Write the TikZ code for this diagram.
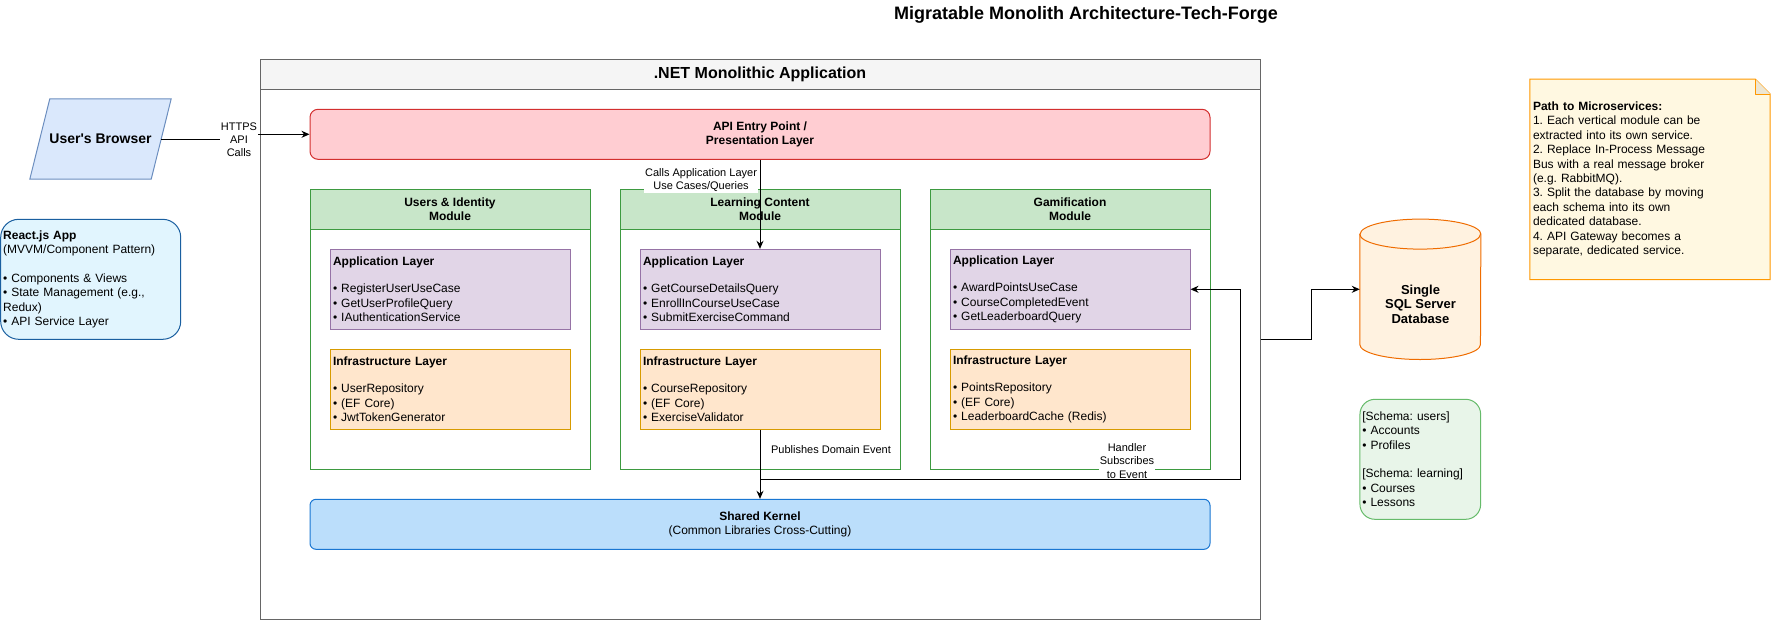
\documentclass[tikz,border=0pt]{standalone}
\usepackage{fontspec}
\setmainfont{Liberation Sans}
\usetikzlibrary{arrows.meta,backgrounds}
\frenchspacing

\definecolor{cFrame}{HTML}{666666}
\definecolor{cFrameHead}{HTML}{F5F5F5}
\definecolor{cBrowserFill}{HTML}{DAE8FC}
\definecolor{cBrowserLine}{HTML}{6C8EBF}
\definecolor{cApiFill}{HTML}{FFCDD2}
\definecolor{cApiLine}{HTML}{D32F2F}
\definecolor{cModFill}{HTML}{C8E6C9}
\definecolor{cModLine}{HTML}{3D9A40}
\definecolor{cAppFill}{HTML}{E1D5E7}
\definecolor{cAppLine}{HTML}{9673A6}
\definecolor{cInfraFill}{HTML}{FFE6CC}
\definecolor{cInfraLine}{HTML}{D79B00}
\definecolor{cKernelFill}{HTML}{BBDEFB}
\definecolor{cKernelLine}{HTML}{1976D2}
\definecolor{cReactFill}{HTML}{E1F5FE}
\definecolor{cReactLine}{HTML}{1A5FA0}
\definecolor{cDbFill}{HTML}{FFF2E0}
\definecolor{cDbLine}{HTML}{EF6C00}
\definecolor{cSchemaFill}{HTML}{E8F5E9}
\definecolor{cSchemaLine}{HTML}{66BB6A}
\definecolor{cNoteFill}{HTML}{FFF8E1}
\definecolor{cNoteLine}{HTML}{FF9800}
\definecolor{cNoteFold}{HTML}{EDE6D3}

\newcommand{\layertxt}[4]{\textbf{#1}\\[13pt]• #2\\• #3\\• #4}

\tikzset{
  box/.style={draw, line width=1pt, inner sep=0pt, font=\fontsize{12}{14.4}\selectfont},
  pagetitle/.style={font=\fontsize{18}{21.6}\selectfont\bfseries, inner sep=0pt},
  frame/.style={box, draw=cFrame, minimum width=1000pt, minimum height=560pt},
  framehead/.style={box, draw=cFrame, fill=cFrameHead, minimum width=1000pt, minimum height=30pt, font=\fontsize{16}{19.2}\selectfont\bfseries},
  browser/.style={inner sep=0pt, minimum width=121pt, minimum height=80pt, font=\fontsize{14}{16.8}\selectfont\bfseries},
  apibox/.style={box, rounded corners=8pt, draw=cApiLine, fill=cApiFill, minimum width=900pt, minimum height=50pt, align=center, font=\fontsize{12}{14.4}\selectfont\bfseries},
  modbody/.style={box, draw=cModLine, minimum width=280pt, minimum height=280pt},
  modhead/.style={box, draw=cModLine, fill=cModFill, minimum width=280pt, minimum height=40pt, align=center, font=\fontsize{12}{14.4}\selectfont\bfseries},
  layer/.style={box, minimum width=240pt, minimum height=80pt, text width=234pt, align=left},
  applayer/.style={layer, draw=cAppLine, fill=cAppFill},
  infralayer/.style={layer, draw=cInfraLine, fill=cInfraFill},
  kernel/.style={box, rounded corners=6pt, draw=cKernelLine, fill=cKernelFill, minimum width=900pt, minimum height=50pt, align=center},
  react/.style={box, rounded corners=18pt, draw=cReactLine, fill=cReactFill, minimum width=180pt, minimum height=120pt, text width=175pt, align=left},
  db/.style={inner sep=0pt, minimum width=120.7pt, minimum height=140pt},
  dbtext/.style={align=center, inner sep=0pt, font=\fontsize{13}{14.6}\selectfont\bfseries},
  schema/.style={box, rounded corners=15pt, draw=cSchemaLine, fill=cSchemaFill, minimum width=120.7pt, minimum height=120pt, text width=116pt, align=left},
  note/.style={inner sep=0pt, minimum width=240pt, minimum height=200pt, text width=234pt, align=left, font=\fontsize{12}{14.4}\selectfont},
  elabel/.style={align=center, inner sep=1pt, font=\fontsize{11}{13.2}\selectfont},
  arr/.style={draw, line width=1pt, -{Stealth[length=8pt,width=7pt]}}
}

\begin{document}
\begin{tikzpicture}[x=1pt,y=-1pt]
\useasboundingbox (0,0) rectangle (1772,621);

\node[pagetitle] (title) at (1086,15) {Migratable Monolith Architecture-Tech-Forge};

\node[frame] (mono) at (760,339.3) {};
\node[framehead] (monohead) at (760,74.3) {.NET Monolithic Application};

\node[browser] (browser) at (100.5,139) {User\textquotesingle s Browser};
\begin{scope}[on background layer]
\filldraw[line width=1pt, draw=cBrowserLine, fill=cBrowserFill] ([xshift=10pt]browser.north west) -- ([xshift=10pt]browser.north east) -- ([xshift=-10pt]browser.south east) -- ([xshift=-10pt]browser.south west) -- cycle;
\end{scope}
\node[apibox] (api) at (760,134.3) {API Entry Point /\\Presentation Layer};
\coordinate (httpsmid) at (239,139);
\draw[arr] (browser.east) -- (httpsmid) |- (api.west);
\node[elabel, fill=white] (https) at (239,140) {HTTPS\\API\\Calls};

\node[modbody] (umod) at (450,329.3) {};
\node[modhead] (uhead) at (450,209.3) {Users \& Identity\\Module};
\node[applayer] (uapp) at (450,289.3) {\layertxt{Application Layer}{RegisterUserUseCase}{GetUserProfileQuery}{IAuthenticationService}};
\node[infralayer] (uinfra) at (450,389.3) {\layertxt{Infrastructure Layer}{UserRepository}{(EF Core)}{JwtTokenGenerator}};

\node[modbody] (lmod) at (760,329.3) {};
\node[modhead] (lhead) at (760,209.3) {Learning Content\\Module};
\node[applayer] (lapp) at (760,289.3) {\layertxt{Application Layer}{GetCourseDetailsQuery}{EnrollInCourseUseCase}{SubmitExerciseCommand}};
\node[infralayer] (linfra) at (760,389.3) {\layertxt{Infrastructure Layer}{CourseRepository}{(EF Core)}{ExerciseValidator}};

\node[modbody] (gmod) at (1070,329.3) {};
\node[modhead] (ghead) at (1070,209.3) {Gamification\\Module};
\node[applayer] (gapp) at (1070,289.3) {\layertxt{Application Layer}{AwardPointsUseCase}{CourseCompletedEvent}{GetLeaderboardQuery}};
\node[infralayer] (ginfra) at (1070,389.3) {\layertxt{Infrastructure Layer}{PointsRepository}{(EF Core)}{LeaderboardCache (Redis)}};

\node[kernel] (kernel) at (760,524.3) {\textbf{Shared Kernel}\\(Common Libraries Cross-Cutting)};

\draw[arr] (api.south) -- (lapp.north);
\node[elabel, fill=white] (callslbl) at (701,180) {Calls Application Layer\\Use Cases/Queries};
\draw[arr] (linfra.south) -- (kernel.north);
\node[elabel] (publbl) at (831,450) {Publishes Domain Event};
\coordinate (handlerbend) at (1240.7,479.3);
\draw[arr] (linfra.south) |- (handlerbend) |- (gapp.east);
\node[elabel, fill=white] (handlerlbl) at (1127,461) {Handler\\Subscribes\\to Event};

\node[react] (react) at (90.7,279.3) {\textbf{React.js App}\\(MVVM/Component Pattern)\\[14.4pt]• Components \& Views\\• State Management (e.g.,\\Redux)\\• API Service Layer};

\node[db] (db) at (1420.3,289.3) {};
\begin{scope}[on background layer]
\filldraw[line width=1pt, draw=cDbLine, fill=cDbFill] ([yshift=-15pt]db.north west) -- ([yshift=15pt]db.south west) arc[start angle=180, end angle=360, x radius=60.35pt, y radius=15pt] -- ([yshift=-15pt]db.north east) arc[start angle=0, end angle=180, x radius=60.35pt, y radius=15pt] -- cycle;
\draw[line width=1pt, draw=cDbLine] ([yshift=-15pt]db.north west) arc[start angle=180, end angle=360, x radius=60.35pt, y radius=15pt];
\end{scope}
\node[dbtext] (dbtxt) at (1420.5,304) {Single\\SQL Server\\Database};
\draw[arr] (mono.east) -- ++(50.7,0) |- (db.west);

\node[schema] (schema) at (1420.3,459.3) {{[Schema: users]}\\• Accounts\\• Profiles\\[14.4pt]{[Schema: learning]}\\• Courses\\• Lessons};

\node[note] (note) at (1650,179.3) {\textbf{Path to Microservices:}\\1. Each vertical module can be\\extracted into its own service.\\2. Replace In-Process Message\\Bus with a real message broker\\(e.g. RabbitMQ).\\3. Split the database by moving\\each schema into its own\\dedicated database.\\4. API Gateway becomes a\\separate, dedicated service.};
\begin{scope}[on background layer]
\filldraw[line width=1pt, draw=cNoteLine, fill=cNoteFill] (note.north west) -- ([xshift=-15pt]note.north east) -- ([yshift=-15pt]note.north east) -- (note.south east) -- (note.south west) -- cycle;
\filldraw[line width=1pt, draw=cNoteLine, fill=cNoteFold, line join=round] ([xshift=-15pt]note.north east) -- ([xshift=-15pt,yshift=-15pt]note.north east) -- ([yshift=-15pt]note.north east);
\end{scope}
\end{tikzpicture}
\end{document}
